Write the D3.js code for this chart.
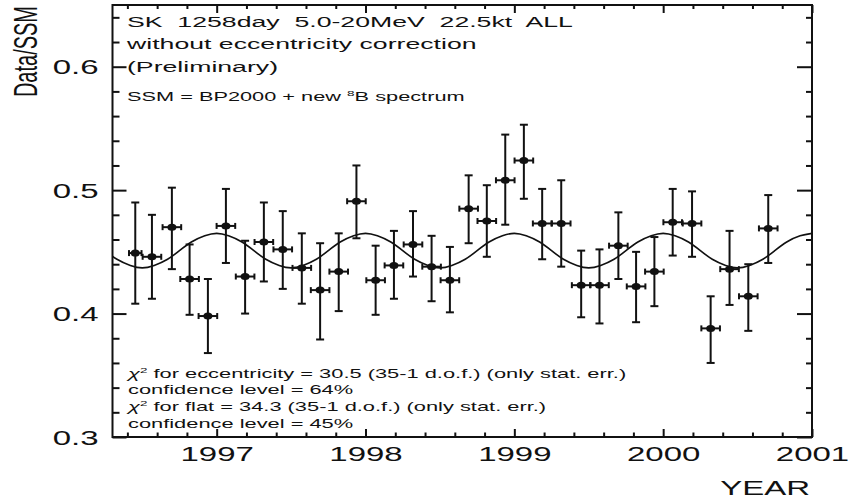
<!DOCTYPE html>
<html>
<head>
<meta charset="utf-8">
<script src="https://cdn.jsdelivr.net/npm/d3@7"></script>
<style>
  body { margin: 0; background: #fff; }
  text { font-family: 'Liberation Sans', Arial, sans-serif; fill: #111; }
</style>
</head>
<body>
<script>
const years = [1996.453, 1996.565, 1996.699, 1996.818, 1996.941, 1997.062, 1997.191, 1997.317, 1997.444, 1997.572,
  1997.695, 1997.820, 1997.939, 1998.068, 1998.191, 1998.319, 1998.444, 1998.567, 1998.693, 1998.815,
  1998.939, 1999.064, 1999.187, 1999.315, 1999.449, 1999.572, 1999.699, 1999.818, 1999.941, 2000.064,
  2000.194, 2000.319, 2000.446, 2000.572, 2000.706]
const ratio = [0.449, 0.446, 0.470, 0.428, 0.398, 0.471, 0.430, 0.458, 0.452, 0.437,
  0.419, 0.434, 0.491, 0.427, 0.439, 0.456, 0.438, 0.427, 0.485, 0.475,
  0.508, 0.524, 0.473, 0.473, 0.423, 0.423, 0.455, 0.422, 0.434, 0.474,
  0.473, 0.388, 0.436, 0.414, 0.469]
const errUp = [0.041, 0.034, 0.032, 0.028, 0.030, 0.030, 0.029, 0.032, 0.031, 0.028,
  0.038, 0.031, 0.029, 0.028, 0.028, 0.027, 0.025, 0.027, 0.027, 0.029,
  0.037, 0.029, 0.028, 0.035, 0.028, 0.029, 0.027, 0.028, 0.028, 0.027,
  0.026, 0.026, 0.031, 0.026, 0.027]
const errDown = [0.041, 0.034, 0.034, 0.029, 0.030, 0.030, 0.030, 0.032, 0.032, 0.029,
  0.040, 0.032, 0.030, 0.028, 0.027, 0.026, 0.028, 0.026, 0.028, 0.029,
  0.036, 0.031, 0.029, 0.035, 0.026, 0.031, 0.027, 0.029, 0.028, 0.027,
  0.027, 0.028, 0.029, 0.028, 0.028]
const binHalf = [0.042, 0.0625, 0.0625, 0.0625, 0.0625, 0.0625, 0.0625, 0.0625, 0.0625, 0.0625,
  0.0625, 0.0625, 0.0625, 0.0625, 0.0625, 0.0625, 0.0625, 0.0625, 0.0625, 0.0625,
  0.0625, 0.0625, 0.0625, 0.0625, 0.0625, 0.0625, 0.0625, 0.0625, 0.0625, 0.0625,
  0.0625, 0.0625, 0.0625, 0.0625, 0.0625]

// expected ratio with the 1/r^2 eccentricity effect
const curveYears = [1996.25, 1996.33, 1996.42, 1996.5, 1996.58, 1996.67, 1996.75, 1996.83, 1996.92,
  1997, 1997.08, 1997.17, 1997.25, 1997.33, 1997.42, 1997.5, 1997.58, 1997.67, 1997.75, 1997.83, 1997.92,
  1998, 1998.08, 1998.17, 1998.25, 1998.33, 1998.42, 1998.5, 1998.58, 1998.67, 1998.75, 1998.83, 1998.92,
  1999, 1999.08, 1999.17, 1999.25, 1999.33, 1999.42, 1999.5, 1999.58, 1999.67, 1999.75, 1999.83, 1999.92,
  2000, 2000.08, 2000.17, 2000.25, 2000.33, 2000.42, 2000.5, 2000.58, 2000.67, 2000.75, 2000.83, 2000.92,
  2001]
const curveRatio = [0.451, 0.444, 0.439, 0.437, 0.439, 0.444, 0.451, 0.458, 0.463,
  0.465, 0.463, 0.458, 0.451, 0.444, 0.439, 0.437, 0.439, 0.444, 0.451, 0.458, 0.463,
  0.465, 0.463, 0.458, 0.451, 0.444, 0.439, 0.437, 0.439, 0.444, 0.451, 0.458, 0.463,
  0.465, 0.463, 0.458, 0.451, 0.444, 0.439, 0.437, 0.439, 0.444, 0.451, 0.458, 0.463,
  0.465, 0.463, 0.458, 0.451, 0.444, 0.439, 0.437, 0.439, 0.444, 0.451, 0.458, 0.463,
  0.465]

const xMajor = [1997, 1998, 1999, 2000, 2001]
const xLabels = ['1997', '1998', '1999', '2000', '2001']
const yMajor = [0.3, 0.4, 0.5, 0.6]
const yLabels = ['0.3', '0.4', '0.5', '0.6']

const headerLines = ['SK  1258day  5.0-20MeV  22.5kt  ALL', 'without eccentricity correction', '(Preliminary)']
const fitLines = [
  ['χ', '2', ' for eccentricity = 30.5 (35-1 d.o.f.) (only stat. err.)'],
  ['', '', 'confidence level = 64%'],
  ['χ', '2', ' for flat = 34.3 (35-1 d.o.f.) (only stat. err.)'],
  ['', '', 'confidence level = 45%'],
]

const width = 849
const height = 500
const margin = { top: 5, right: 37, bottom: 63, left: 112.5 }
const sx = 1.65 // the original plot is stretched sideways

const x = d3.scaleLinear().domain([1996.3, 2001]).range([margin.left, width - margin.right])
const y = d3.scaleLinear().domain([0.3, 0.65]).range([height - margin.bottom, margin.top])

const svg = d3.select('body').append('svg').attr('width', width).attr('height', height)

const xMinor = d3.range(1996.4, 2001, 0.2).filter(v => Math.abs(v - Math.round(v)) > 0.01)
const yMinor = d3.range(0.32, 0.65, 0.02).filter(v => Math.abs(v * 10 - Math.round(v * 10)) > 0.01)

const tickAxis = (axis, values, size) =>
  axis.tickValues(values).tickSize(size).tickSizeOuter(0).tickFormat(() => '')

const plain = g =>
  g
    .call(g => g.select('.domain').remove())
    .call(g => g.selectAll('.tick line').attr('stroke', '#111').attr('stroke-width', 2))

const stretch = (sel, px, k = sx) => sel.attr('transform', `scale(${k},1)`).attr('x', px / k)

// left
svg.append('g').attr('transform', `translate(${margin.left},0)`)
  .call(tickAxis(d3.axisLeft(y), yMinor, -7)).call(plain)
svg.append('g').attr('transform', `translate(${margin.left},0)`)
  .call(d3.axisLeft(y).tickValues(yMajor).tickSize(-14).tickSizeOuter(0).tickPadding(14)
    .tickFormat((d, i) => yLabels[i]))
  .call(plain)
  .call(g => g.selectAll('text').style('font-size', '20px').attr('fill', '#111').attr('dy', '0.36em')
    .call(t => stretch(t, -14)))

// right
svg.append('g').attr('transform', `translate(${width - margin.right},0)`)
  .call(tickAxis(d3.axisRight(y), yMinor, -6)).call(plain)
svg.append('g').attr('transform', `translate(${width - margin.right},0)`)
  .call(tickAxis(d3.axisRight(y), yMajor, -15)).call(plain)

// bottom
svg.append('g').attr('transform', `translate(0,${height - margin.bottom})`)
  .call(tickAxis(d3.axisBottom(x), xMinor, -4.5)).call(plain)
svg.append('g').attr('transform', `translate(0,${height - margin.bottom})`)
  .call(d3.axisBottom(x).tickValues(xMajor).tickSize(-8).tickSizeOuter(0).tickPadding(10)
    .tickFormat((d, i) => xLabels[i]))
  .call(plain)
  .call(g => g.selectAll('text').style('font-size', '20px').attr('fill', '#111').attr('dy', '0.71em')
    .call(t => stretch(t, 0)))

// top
svg.append('g').attr('transform', `translate(0,${margin.top})`)
  .call(tickAxis(d3.axisTop(x), xMinor, -4)).call(plain)
svg.append('g').attr('transform', `translate(0,${margin.top})`)
  .call(tickAxis(d3.axisTop(x), xMajor, -8)).call(plain)

svg.append('rect')
  .attr('x', margin.left).attr('y', margin.top)
  .attr('width', width - margin.right - margin.left)
  .attr('height', height - margin.bottom - margin.top)
  .attr('fill', 'none').attr('stroke', '#111').attr('stroke-width', 2)

svg.append('text')
  .attr('transform', `translate(37,6) scale(${sx},1) rotate(-90)`)
  .attr('text-anchor', 'end')
  .style('font-size', '20px')
  .text('Data/SSM')

svg.append('text')
  .attr('text-anchor', 'end')
  .style('font-size', '20px')
  .attr('y', 495)
  .call(t => stretch(t, 810))
  .text('YEAR')

// header text
const header = svg.append('g')
header.selectAll('text.head')
  .data(headerLines)
  .join('text')
  .attr('class', 'head')
  .attr('y', (d, i) => [27, 49, 72][i])
  .style('font-size', '15.5px')
  .style('white-space', 'pre')
  .call(t => stretch(t, 127, 1.72))
  .text(d => d)

header.append('text')
  .attr('y', 101)
  .style('font-size', '12.8px')
  .call(t => stretch(t, 127, 1.7))
  .call(t => t.append('tspan').text('SSM = BP2000 + new '))
  .call(t => t.append('tspan').attr('dy', -5).style('font-size', '8px').text('8'))
  .call(t => t.append('tspan').attr('dy', 5).text('B spectrum'))

svg.append('g')
  .selectAll('text')
  .data(fitLines)
  .join('text')
  .attr('y', (d, i) => [378, 394, 411, 428][i])
  .style('font-size', '13px')
  .style('white-space', 'pre')
  .call(t => stretch(t, 128, 1.68))
  .call(t => t.append('tspan').style('font-style', 'italic').text(d => d[0]))
  .call(t => t.append('tspan').attr('dy', d => (d[1] ? -5 : 0)).style('font-size', '8px').text(d => d[1]))
  .call(t => t.append('tspan').attr('dy', d => (d[1] ? 5 : 0)).text(d => d[2]))

// expectation curve
svg.append('clipPath').attr('id', 'plot-clip')
  .append('rect')
  .attr('x', margin.left).attr('y', margin.top)
  .attr('width', width - margin.right - margin.left)
  .attr('height', height - margin.bottom - margin.top)

const line = d3.line()
  .x((d, i) => x(curveYears[i]))
  .y(d => y(d))
  .curve(d3.curveNatural)

svg.append('path')
  .attr('clip-path', 'url(#plot-clip)')
  .attr('d', line(curveRatio))
  .attr('fill', 'none')
  .attr('stroke', '#111')
  .attr('stroke-width', 1.6)

// data points with error bars
const points = years.map((t, i) => ({ t, v: ratio[i], up: errUp[i], down: errDown[i], dt: binHalf[i] }))

const pt = svg.append('g')
  .attr('stroke', '#111')
  .attr('stroke-width', 2)
  .selectAll('g')
  .data(points)
  .join('g')

pt.append('line')
  .attr('x1', d => x(d.t)).attr('x2', d => x(d.t))
  .attr('y1', d => y(d.v + d.up)).attr('y2', d => y(d.v - d.down))
pt.append('line')
  .attr('x1', d => x(d.t) - 4).attr('x2', d => x(d.t) + 4)
  .attr('y1', d => y(d.v + d.up)).attr('y2', d => y(d.v + d.up))
pt.append('line')
  .attr('x1', d => x(d.t) - 4).attr('x2', d => x(d.t) + 4)
  .attr('y1', d => y(d.v - d.down)).attr('y2', d => y(d.v - d.down))
pt.append('line')
  .attr('x1', d => x(d.t - d.dt)).attr('x2', d => x(d.t + d.dt))
  .attr('y1', d => y(d.v)).attr('y2', d => y(d.v))
pt.append('line')
  .attr('x1', d => x(d.t - d.dt)).attr('x2', d => x(d.t - d.dt))
  .attr('y1', d => y(d.v) - 3).attr('y2', d => y(d.v) + 3)
pt.append('line')
  .attr('x1', d => x(d.t + d.dt)).attr('x2', d => x(d.t + d.dt))
  .attr('y1', d => y(d.v) - 3).attr('y2', d => y(d.v) + 3)
pt.append('ellipse')
  .attr('cx', d => x(d.t)).attr('cy', d => y(d.v))
  .attr('rx', 4.5).attr('ry', 3.5)
  .attr('fill', '#111').attr('stroke', 'none')
</script>
</body>
</html>
